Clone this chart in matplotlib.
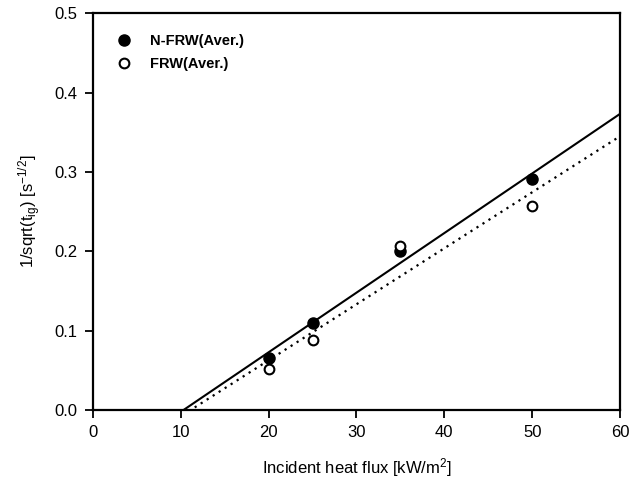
import numpy as np
import matplotlib
matplotlib.use('Agg')
import matplotlib.pyplot as plt

plt.rcParams['font.family'] = ['Liberation Sans', 'DejaVu Sans']
plt.rcParams['mathtext.fontset'] = 'custom'
plt.rcParams['mathtext.rm'] = 'Liberation Sans'
plt.rcParams['mathtext.it'] = 'Liberation Sans'

# heat flux levels [kW/m2]
heat_flux = [20, 25, 35, 50]
# 1/sqrt(t_ig) averages
nfrw = [0.066, 0.110, 0.200, 0.291]
frw = [0.052, 0.088, 0.207, 0.257]

fig = plt.figure(figsize=(6.42, 4.86), dpi=100)
ax = fig.add_axes([0.1445, 0.156, 0.8215, 0.817])

# linear fits
xs = np.array([0, 60])
p1 = np.polyfit(heat_flux, nfrw, 1)
p2 = np.polyfit(heat_flux, frw, 1)
ax.plot(xs, np.polyval(p1, xs), color='black', lw=1.5, ls='-')
ax.plot(xs, np.polyval(p2, xs), color='black', lw=1.6, ls=(0, (1, 2.2)))

ax.plot(heat_flux, nfrw, 'o', color='black', ms=8, label='N-FRW(Aver.)', zorder=3)
ax.plot(heat_flux, frw, 'o', mfc='white', mec='black', mew=1.5, ms=7,
        label='FRW(Aver.)', zorder=3)

ax.set_xlim(0, 60)
ax.set_ylim(0, 0.5)
ax.set_xticks(range(0, 61, 10))
ax.set_yticks([0.0, 0.1, 0.2, 0.3, 0.4, 0.5])
ax.set_yticklabels(['0.0', '0.1', '0.2', '0.3', '0.4', '0.5'])
ax.tick_params(direction='out', length=6, width=1.3, labelsize=12, pad=5,
               top=False, right=False)
for s in ax.spines.values():
    s.set_linewidth(1.6)

ax.set_xlabel('Incident heat flux [kW/m$^2$]', fontsize=12, labelpad=11)
ax.set_ylabel('1/sqrt(t$_{ig}$) [s$^{-1/2}$]', fontsize=12, labelpad=8)

leg = ax.legend(loc='upper left', bbox_to_anchor=(0.017, 0.982), frameon=False,
                handletextpad=1.2, borderaxespad=0.54, labelspacing=0.65,
                handlelength=1.17, prop={'weight': 'bold', 'size': 10.5})

fig.savefig('out.png', dpi=100)
